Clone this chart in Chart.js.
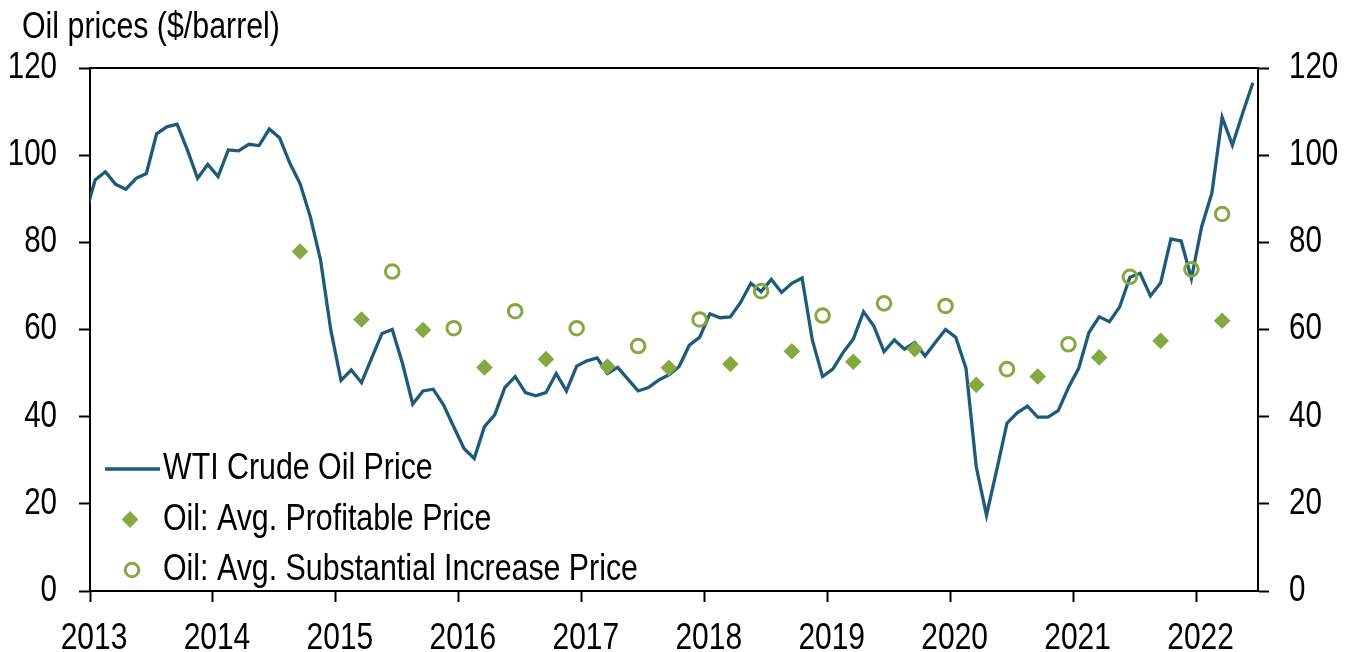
<!DOCTYPE html>
<html>
<head>
<meta charset="utf-8">
<script src="https://cdn.jsdelivr.net/npm/chart.js@4/dist/chart.umd.min.js"></script>
<style>
  html, body { margin: 0; padding: 0; background: #fff; }
  #wrap { width: 1355px; height: 652px; }
</style>
</head>
<body>
<div id="wrap"><canvas id="oilChart"></canvas></div>
<script>
// WTI monthly average, Dec 2012 .. Jun 2022 ($/barrel)
var wtiFirstMonth = '2012-12';
var wtiPrice = [
  86.0,
  94.3, 96.2, 93.3, 92.2, 94.7, 95.8, 104.9, 106.5, 107.1, 101.2, 94.7, 97.9,
  95.1, 101.2, 101.0, 102.5, 102.2, 106.0, 104.0, 98.2, 93.5, 85.9, 76.0, 59.9,
  48.3, 50.7, 47.8, 53.5, 59.1, 60.0, 52.2, 42.9, 45.9, 46.3, 42.7, 37.7,
  32.7, 30.4, 37.7, 40.4, 46.7, 49.2, 45.5, 44.8, 45.5, 49.9, 45.9, 51.6,
  52.8, 53.5, 49.9, 51.3, 48.6, 45.9, 46.7, 48.4, 49.6, 51.5, 56.4, 58.2,
  63.6, 62.7, 62.9, 66.2, 70.6, 68.7, 71.5, 68.5, 70.6, 71.8, 57.6, 49.2,
  50.9, 54.7, 57.8, 64.1, 60.8, 54.9, 57.6, 55.5, 57.0, 53.9, 57.0, 60.0,
  58.2, 51.1, 28.5, 17.4, 27.8, 38.5, 40.9, 42.4, 39.9, 39.9, 41.4, 46.7,
  51.1, 59.3, 62.9, 61.8, 65.2, 72.0, 72.9, 67.7, 70.7, 80.8, 80.3, 71.7,
  83.6, 91.3, 108.7, 102.3, 109.6, 116.6
];

// survey results
var profitableDates = ['2014-09', '2015-03', '2015-09', '2016-03', '2016-09', '2017-03', '2017-09', '2018-03',
                       '2018-09', '2019-03', '2019-09', '2020-03', '2020-09', '2021-03', '2021-09', '2022-03'];
var profitablePrice = [77.9, 62.3, 59.9, 51.3, 53.2, 51.5, 51.2, 52.1, 55.0, 52.6, 55.5, 47.3, 49.2, 53.6, 57.4, 62.0];

var increaseDates = ['2015-06', '2015-12', '2016-06', '2016-12', '2017-06', '2017-12', '2018-06', '2018-12',
                     '2019-06', '2019-12', '2020-06', '2020-12', '2021-06', '2021-12', '2022-03'];
var increasePrice = [73.3, 60.3, 64.2, 60.3, 56.2, 62.3, 68.8, 63.2, 66.0, 65.4, 50.9, 56.6, 72.1, 73.8, 86.5];

var yearMin = 2013, yearMax = 2022.5;
var priceTicks = { min: 0, max: 120, step: 20 };

var seriesNames = ['WTI Crude Oil Price', 'Oil: Avg. Profitable Price', 'Oil: Avg. Substantial Increase Price'];

var BLUE = '#1E5B79';
var GREEN = '#86A842';
var FONT = '"Liberation Sans", Arial, sans-serif';
// the original uses a narrow sans which isn't installed, so text is squeezed sideways
var TEXT_SQUEEZE = 0.82;

// mid-month position in decimal years
function monthPos(ym) {
  var p = ym.split('-');
  return +p[0] + (+p[1] - 0.5) / 12;
}

function wtiPoints() {
  var start = monthPos(wtiFirstMonth);
  return wtiPrice.map(function (v, i) { return { x: start + i / 12, y: v }; });
}

function pairPoints(dates, values) {
  return dates.map(function (d, i) { return { x: monthPos(d), y: values[i] }; });
}

// small glyphs for the legend (line sample / diamond / ring)
function legendGlyph(kind) {
  var c = document.createElement('canvas');
  c.width = 80; c.height = 22;
  var g = c.getContext('2d');
  if (kind === 'line') {
    g.strokeStyle = BLUE; g.lineWidth = 3.3;
    g.beginPath(); g.moveTo(21, 11); g.lineTo(76, 11); g.stroke();
  } else if (kind === 'diamond') {
    g.fillStyle = GREEN;
    g.beginPath(); g.moveTo(46, 2.5); g.lineTo(54.5, 11); g.lineTo(46, 19.5); g.lineTo(37.5, 11); g.closePath(); g.fill();
  } else {
    g.strokeStyle = GREEN; g.lineWidth = 3;
    g.beginPath(); g.arc(48, 11, 6.8, 0, Math.PI * 2); g.stroke();
  }
  return c;
}

var canvas = document.getElementById('oilChart');
var ctx = canvas.getContext('2d');
var baseFillText = ctx.fillText;
ctx.fillText = function (text, x, y) {
  this.save();
  this.translate(x, y);
  this.scale(TEXT_SQUEEZE, 1);
  baseFillText.call(this, text, 0, 0);
  this.restore();
};

Chart.defaults.font.family = FONT;
Chart.defaults.color = '#000';

var axisBorder = { display: true, color: '#000', width: 2 };
var tickGrid = { drawOnChartArea: false, drawTicks: true, tickLength: 11, tickColor: '#000', tickWidth: 2 };

var glyphs = [legendGlyph('line'), legendGlyph('diamond'), legendGlyph('ring')];

// title indented a little; legend sits in the lower-left corner of the plot
var placeBoxes = {
  id: 'placeBoxes',
  afterLayout: function (chart) {
    var a = chart.chartArea;
    chart.titleBlock.left = 22;
    chart.legend.top = a.top;
    chart.legend.bottom = a.bottom + 11;
  }
};

new Chart(ctx, {
  type: 'line',
  data: {
    datasets: [{
      label: seriesNames[0],
      data: wtiPoints(),
      borderColor: BLUE,
      borderWidth: 3.3,
      pointRadius: 0,
      tension: 0,
      clip: 0,
      order: 1
    }, {
      label: seriesNames[1],
      data: pairPoints(profitableDates, profitablePrice),
      showLine: false,
      pointStyle: 'rectRot',
      pointRadius: 8.3,
      pointBackgroundColor: GREEN,
      pointBorderWidth: 0,
      order: 0
    }, {
      label: seriesNames[2],
      data: pairPoints(increaseDates, increasePrice),
      showLine: false,
      pointStyle: 'circle',
      pointRadius: 6.8,
      pointBackgroundColor: 'rgba(0,0,0,0)',
      pointBorderColor: GREEN,
      pointBorderWidth: 3,
      order: 0
    }]
  },
  plugins: [placeBoxes],
  options: {
    responsive: true,
    maintainAspectRatio: false,
    animation: false,
    devicePixelRatio: 1,
    events: [],
    layout: { padding: { left: 0, top: 6, right: 0, bottom: 0 } },
    plugins: {
      tooltip: { enabled: false },
      title: {
        display: true,
        text: 'Oil prices ($/barrel)',
        align: 'start',
        color: '#000',
        font: { size: 37, weight: 'normal' },
        padding: { top: 0, bottom: 17.6 }
      },
      legend: {
        position: 'chartArea',
        align: 'end',
        labels: {
          usePointStyle: true,
          pointStyleWidth: 41,
          padding: 13.5,
          color: '#000',
          font: { size: 37 },
          generateLabels: function (chart) {
            return chart.data.datasets.map(function (ds, i) {
              return { text: ds.label, datasetIndex: i, pointStyle: glyphs[i], lineWidth: 0, hidden: false };
            });
          }
        }
      }
    },
    scales: {
      x: {
        type: 'linear', position: 'bottom', min: yearMin, max: yearMax,
        ticks: { stepSize: 1, includeBounds: false, autoSkip: false, maxRotation: 0, padding: 15, labelOffset: 4,
                 font: { size: 36.5 }, color: '#000', callback: function (v) { return String(v); } },
        grid: tickGrid, border: axisBorder,
        afterFit: function (s) { s.height = 61; }
      },
      xTop: {
        type: 'linear', position: 'top', min: yearMin, max: yearMax,
        ticks: { display: false },
        grid: { drawOnChartArea: false, drawTicks: false },
        border: axisBorder,
        afterFit: function (s) { s.height = 0; }
      },
      y: {
        position: 'left', min: priceTicks.min, max: priceTicks.max,
        ticks: { stepSize: priceTicks.step, padding: 22, font: { size: 36 }, color: '#000' },
        grid: tickGrid, border: axisBorder,
        afterFit: function (s) { s.width = 90; }
      },
      y2: {
        position: 'right', min: priceTicks.min, max: priceTicks.max,
        ticks: { stepSize: priceTicks.step, padding: 20, font: { size: 36 }, color: '#000' },
        grid: tickGrid, border: axisBorder,
        afterFit: function (s) { s.width = 97; }
      }
    }
  }
});
</script>
</body>
</html>
